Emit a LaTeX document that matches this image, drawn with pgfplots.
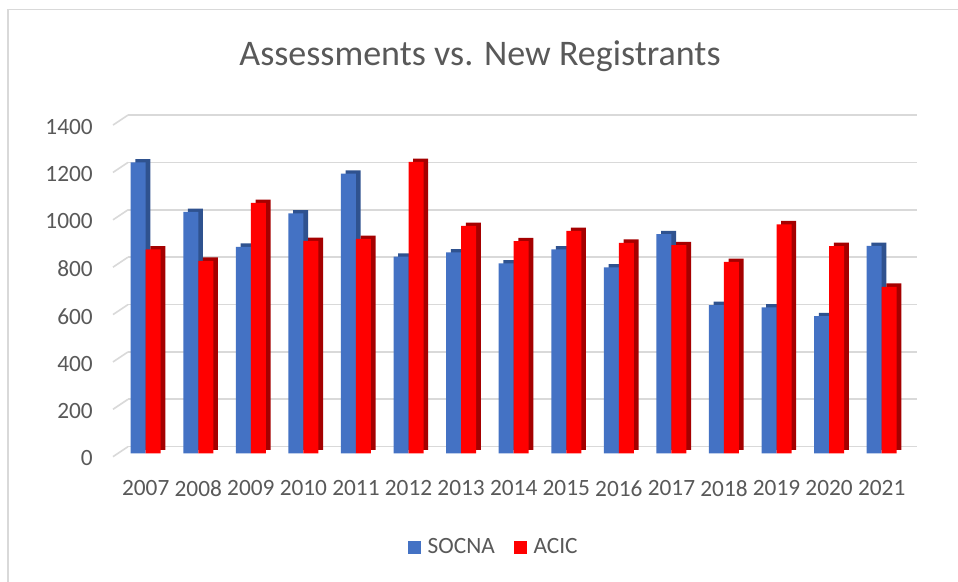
\documentclass[border=0pt]{standalone}
\usepackage{fontspec}
\setmainfont{Carlito}
\usepackage{pgfplots}
\pgfplotsset{compat=1.18}

\definecolor{socna}{HTML}{4472C4}
\definecolor{socnadark}{HTML}{2F528F}
\definecolor{acic}{HTML}{FF0000}
\definecolor{acicdark}{HTML}{A50000}
\definecolor{txt}{HTML}{595959}
\definecolor{gridc}{HTML}{D9D9D9}

% values per year, 2007..2021
\pgfplotstableread{
x socna acic
0  1228 861
1  1019 813
2  872  1057
3  1013 897
4  1181 905
5  830  1230
6  848  960
7  802  896
8  861  939
9  785  889
10 925  879
11 626  808
12 616  967
13 579  875
14 876  703
}\mydata

\begin{document}
\begin{tikzpicture}
\useasboundingbox (0pt,0pt) rectangle (718.5pt,436.5pt);
\fill[white] (0pt,0pt) rectangle (718.5pt,436.5pt);
% chart frame
\draw[gridc, line width=1.1pt] (6pt,0pt) -- (6pt,429.5pt) -- (718.5pt,429.5pt);

\node[anchor=base, text=txt, font=\fontsize{27}{31}\selectfont] at (360pt,387.5pt) {Assessments vs. New Registrants};

\begin{axis}[
    at={(89.55pt,96.5pt)}, anchor=south west,
    scale only axis,
    width=591.45pt, height=248.7pt,
    xmin=-0.5, xmax=14.5,
    ymin=0, ymax=1400,
    ytick={0,200,...,1400},
    xtick=data,
    xticklabels={2007,2008,2009,2010,2011,2012,2013,2014,2015,2016,2017,2018,2019,2020,2021},
    axis line style={draw=none},
    major tick length=0pt,
    ymajorgrids=true,
    major grid style={draw=gridc, line width=1.2pt, xshift=6.45pt, yshift=5pt},
    tick label style={text=txt, font=\fontsize{17.5}{20}\selectfont},
    /pgf/number format/assume math mode=true,
    /pgf/number format/1000 sep={},
    yticklabel style={anchor=east, inner sep=0pt, xshift=-19.8pt, yshift=-3.75pt},
    xticklabel style={anchor=north, inner sep=0pt, yshift=-20pt},
    scaled y ticks=false,
    clip=false,
    ybar,
    bar width=11.25pt,
    legend columns=2,
    legend style={draw=none, fill=none, at={(0.475,-0.283)}, anchor=center,
        font=\fontsize{17.5}{20}\selectfont, text=txt,
        /tikz/every odd column/.append style={column sep=3pt},
        /tikz/every even column/.append style={column sep=12pt}},
    legend image code/.code={\fill[#1] (0pt,-5pt) rectangle (10pt,5pt);},
]
% slanted floor segments of the back wall
\pgfplotsinvokeforeach{0,200,...,1400}{
  \draw[gridc, line width=1.2pt] ([xshift=-4.8pt,yshift=-2.5pt]axis cs:-0.5,#1) -- ([xshift=6.45pt,yshift=5pt]axis cs:-0.5,#1);
}
\addplot[draw=none, fill=socnadark, bar shift=-5.625pt, xshift=3.5pt, yshift=2.5pt, forget plot] table[x=x, y=socna] {\mydata};
\addplot[draw=none, fill=socna, bar shift=-5.625pt] table[x=x, y=socna] {\mydata};
\addplot[draw=none, fill=acicdark, bar shift=5.625pt, xshift=3.5pt, yshift=2.5pt, forget plot] table[x=x, y=acic] {\mydata};
\addplot[draw=none, fill=acic, bar shift=5.625pt] table[x=x, y=acic] {\mydata};
\legend{SOCNA, ACIC}
\end{axis}
\end{tikzpicture}
\end{document}
